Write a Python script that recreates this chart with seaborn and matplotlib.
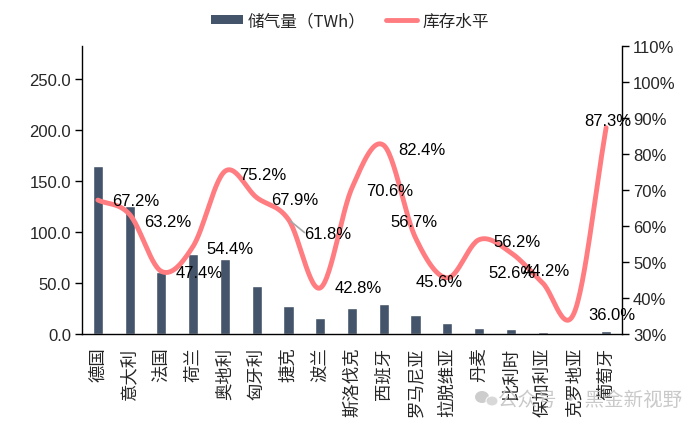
import numpy as np
import pandas as pd
import matplotlib
matplotlib.use("Agg")
import matplotlib.pyplot as plt
import seaborn as sns
from matplotlib.patches import Patch, Ellipse
from matplotlib.lines import Line2D

countries = ["德国", "意大利", "法国", "荷兰", "奥地利", "匈牙利", "捷克", "波兰", "斯洛伐克",
             "西班牙", "罗马尼亚", "拉脱维亚", "丹麦", "比利时", "保加利亚", "克罗地亚", "葡萄牙"]
storage_twh = [165.0, 126.0, 60.5, 78.4, 73.5, 47.0, 27.0, 15.7, 25.8,
               29.4, 19.0, 10.8, 5.6, 4.6, 2.3, 1.3, 2.9]
fill_level = [67.2, 63.2, 47.4, 54.4, 75.2, 67.9, 61.8, 42.8, 70.6,
              82.4, 56.7, 45.6, 56.2, 52.6, 44.2, 36.0, 87.3]
left_ticks = [0, 50, 100, 150, 200, 250]
right_ticks = [30, 40, 50, 60, 70, 80, 90, 100, 110]
bar_label = "储气量（TWh）"
line_label = "库存水平"
watermark = "公众号 · 黑金新视野"

# label offsets (pixels; dx to the right, dy downward) for the percentage annotations
label_offsets = [(38, 0), (38, 7), (38, 1), (37, 2), (38, 3), (38, 2), (39, 14), (38, 0), (38, 3),
                 (38, 4), (-2, -16), (-8, 4), (38, 2), (1, 20), (4, -12), (38, 2), (2, -7)]

BAR_C = "#44546A"
LINE_C = "#FF7C80"

sns.set_style("white")
plt.rcParams['font.family'] = ['Liberation Sans', 'Noto Sans CJK SC', 'DejaVu Sans']

fig = plt.figure(figsize=(7.0, 4.27), dpi=100)
ax = fig.add_axes([82/700, 1-335/427, (622-82)/700, (335-47)/427])

df = pd.DataFrame({"country": countries, "storage": storage_twh, "level": fill_level})
sns.barplot(data=df, x="country", y="storage", color=BAR_C, width=0.32, ax=ax, saturation=1)
ax.set_xlim(-0.5, len(countries) - 0.5)
ax.set_ylim(0, 282.4)
ax.set_yticks(left_ticks)
ax.set_yticklabels([f"{v:.1f}" for v in left_ticks], fontsize=12)
ax.set_xlabel("")
ax.set_ylabel("")

# categorical x labels: rotated 90 degrees
ax.set_xticks(range(len(countries)))
ax.set_xticklabels(countries, fontsize=12.5, rotation=90, family=['Noto Sans CJK SC'],
                   ha="center", va="top")
ax.tick_params(axis="x", length=0, pad=9)
ax.set_xticks(np.arange(-0.5, len(countries)), minor=True)
ax.tick_params(axis="x", which="minor", length=5, width=1, direction="out", color="black")
ax.tick_params(axis="y", length=5, width=1, direction="out", color="black", pad=3)

for s in ["left", "bottom"]:
    ax.spines[s].set_color("black")
    ax.spines[s].set_linewidth(1)
ax.spines["top"].set_visible(False)
ax.spines["right"].set_visible(False)

ax2 = ax.twinx()
ax2.set_ylim(30, 110)
ax2.set_yticks(right_ticks)
ax2.set_yticklabels([f"{v}%" for v in right_ticks], fontsize=12)
ax2.tick_params(axis="y", length=5, width=1, direction="out", color="black", pad=3)
ax2.spines["right"].set_color("black")
ax2.spines["right"].set_linewidth(1)
for s in ["top", "left", "bottom"]:
    ax2.spines[s].set_visible(False)

# smooth curve (Catmull-Rom, like Excel's smoothed line) through the data points
x = np.arange(len(fill_level), dtype=float)
y = np.array(fill_level, dtype=float)
px = np.concatenate([[2*x[0]-x[1]], x, [2*x[-1]-x[-2]]])
py = np.concatenate([[2*y[0]-y[1]], y, [2*y[-1]-y[-2]]])
sx, sy = [], []
t = np.linspace(0, 1, 30)
for i in range(1, len(px) - 2):
    p0, p1, p2, p3 = (px[i-1], py[i-1]), (px[i], py[i]), (px[i+1], py[i+1]), (px[i+2], py[i+2])
    for k in range(2):
        a = np.array([p0[k], p1[k], p2[k], p3[k]])
        seg = 0.5 * ((2*a[1]) + (-a[0] + a[2]) * t + (2*a[0] - 5*a[1] + 4*a[2] - a[3]) * t**2
                     + (-a[0] + 3*a[1] - 3*a[2] + a[3]) * t**3)
        (sx if k == 0 else sy).append(seg if i == len(px) - 3 else seg[:-1])
sx = np.concatenate(sx)
sy = np.concatenate(sy)
sns.lineplot(x=sx, y=sy, sort=False, color=LINE_C, linewidth=3.5, ax=ax2, solid_capstyle="round")

for i, v in enumerate(fill_level):
    dx, dy = label_offsets[i]
    ax2.annotate(f"{v:.1f}%", xy=(i, v), xytext=(dx, -dy), textcoords="offset pixels",
                 ha="center", va="center", fontsize=12, color="black")

# leader line for the 61.8% label
ax2.annotate("", xy=(6, fill_level[6]), xytext=(16, -13), textcoords="offset pixels",
             arrowprops=dict(arrowstyle="-", color="#A6A6A6", lw=1.2, shrinkA=0, shrinkB=2))

handles = [Patch(facecolor=BAR_C, edgecolor="none"),
           Line2D([0], [0], color=LINE_C, linewidth=3.5)]
fig.legend(handles, [bar_label, line_label], loc="center", bbox_to_anchor=(0.5, 1-22/427),
           ncol=2, frameon=False, handlelength=1.9, handleheight=0.45,
           handletextpad=0.3, columnspacing=1.2, prop={'family': ['Noto Sans CJK SC'], 'size': 12})

# watermark
fig.text(590/700, 1-400/427, watermark, fontsize=14, color="#C4C4C4", ha="center", va="center",
         family=['Noto Sans CJK SC'], alpha=0.9)
fig.patches.append(Ellipse((482/700, 1-398/427), 14/700, 12/427, transform=fig.transFigure,
                           facecolor="#C8C8C8", edgecolor="none", alpha=0.9))
fig.patches.append(Ellipse((492/700, 1-402/427), 12/700, 10/427, transform=fig.transFigure,
                           facecolor="#D4D4D4", edgecolor="white", lw=0.8, alpha=0.9))

fig.savefig("out.png", dpi=100)
